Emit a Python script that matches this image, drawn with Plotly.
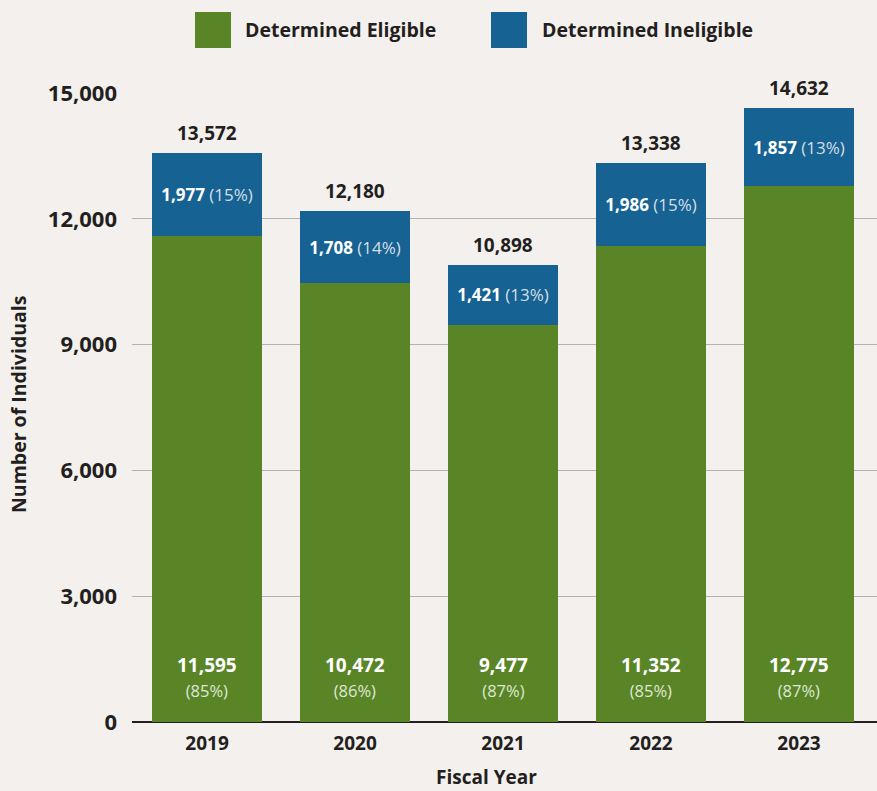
import plotly.graph_objects as go

years = ["2019", "2020", "2021", "2022", "2023"]
eligible = [11595, 10472, 9477, 11352, 12775]
ineligible = [1977, 1708, 1421, 1986, 1857]
totals = [13572, 12180, 10898, 13338, 14632]
eligible_pct = [85, 86, 87, 85, 87]
ineligible_pct = [15, 14, 13, 15, 13]
y_ticks = [0, 3000, 6000, 9000, 12000, 15000]

GREEN = "#5a8527"
BLUE = "#156293"
BG = "#f4f0ed"
DARK = "#231f20"
FONT = "Open Sans"

# plot area in pixels, used to place legend / titles in paper units
L, R, T, B = 132, 877, 93, 722
def px(x):
    return (x - L) / (R - L)
def py(y):
    return (B - y) / (B - T)

fig = go.Figure()
fig.add_trace(go.Bar(
    x=years, y=eligible, marker_color=GREEN, width=0.74, marker_line_width=0,
    hoverinfo="skip", name="Determined Eligible"))
fig.add_trace(go.Bar(
    x=years, y=ineligible, marker_color=BLUE, width=0.74, marker_line_width=0,
    text=["<b>%s</b> <span style='color:#d6dee6'>(%d%%)</span>" % (f"{v:,}", p)
          for v, p in zip(ineligible, ineligible_pct)],
    textposition="inside", insidetextanchor="middle", textangle=0,
    constraintext="none",
    textfont=dict(family=FONT, size=17, color="white"),
    hoverinfo="skip", name="Determined Ineligible"))

ann = []
for i, tot in enumerate(totals):
    ann.append(dict(x=i, y=tot, text="<b>%s</b>" % f"{tot:,}", showarrow=False,
                    yanchor="bottom", yshift=5,
                    font=dict(family=FONT, size=19, color=DARK)))
for i, (v, p) in enumerate(zip(eligible, eligible_pct)):
    ann.append(dict(x=i, y=0, showarrow=False, yanchor="bottom", yshift=18,
                    text="<b>%s</b><br><span style='font-size:16.5px;color:#dfe8d4'>(%d%%)</span>" % (f"{v:,}", p),
                    font=dict(family=FONT, size=19, color="white")))

# legend drawn by hand (big squares)
shapes = []
for x0, x1, col in [(195, 231, GREEN), (491, 527, BLUE)]:
    shapes.append(dict(type="rect", xref="paper", yref="paper",
                       x0=px(x0), x1=px(x1), y0=py(48), y1=py(12),
                       fillcolor=col, line_width=0))
for x0, label in [(243, "Determined Eligible"), (540, "Determined Ineligible")]:
    ann.append(dict(xref="paper", yref="paper", x=px(x0), y=py(30),
                    xanchor="left", yanchor="middle",
                    text="<b>%s</b>" % label, showarrow=False,
                    font=dict(family=FONT, size=19.5, color=DARK)))

ann.append(dict(xref="paper", yref="paper", x=px(18), y=py(405), textangle=-90,
                xanchor="center", yanchor="middle",
                text="<b>Number of Individuals</b>", showarrow=False,
                font=dict(family=FONT, size=19.5, color=DARK)))
ann.append(dict(xref="paper", yref="paper", x=px(486), y=py(777),
                xanchor="center", yanchor="middle",
                text="<b>Fiscal Year</b>", showarrow=False,
                font=dict(family=FONT, size=19, color=DARK)))

fig.update_layout(
    barmode="stack",
    showlegend=False,
    width=877, height=791,
    margin=dict(l=L, r=877 - R, t=T, b=791 - B),
    paper_bgcolor=BG, plot_bgcolor=BG,
    annotations=ann, shapes=shapes,
    xaxis=dict(type="category", range=[-0.507, 4.527], showgrid=False, showline=False,
               tickfont=dict(family=FONT, size=19, color=DARK),
               ticklabelstandoff=8, tickprefix="<b>", ticksuffix="</b>"),
    yaxis=dict(range=[0, 15000], tickvals=y_ticks,
               ticktext=["<b>%s</b>" % f"{v:,}" for v in y_ticks],
               tickfont=dict(family=FONT, size=22, color=DARK),
               ticklabelstandoff=14,
               showgrid=True, gridcolor="#b3b3b3", gridwidth=1,
               zeroline=True, zerolinecolor=DARK, zerolinewidth=2),
)

fig.write_html("out.html", config={"displayModeBar": False},
               post_script="document.body.style.margin='0';"
               "document.body.style.background='%s';" % BG)
